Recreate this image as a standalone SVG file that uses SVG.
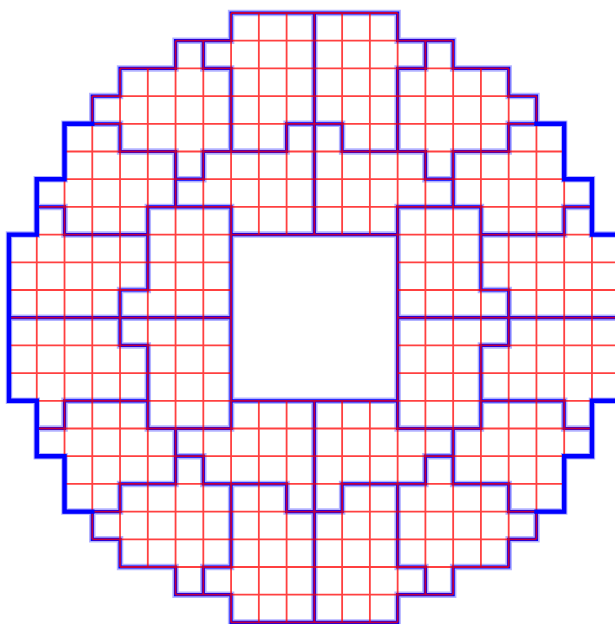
<svg xmlns="http://www.w3.org/2000/svg" width="615" height="624" viewBox="0 0 615 624">
<style>
path{vector-effect:non-scaling-stroke;fill:none}
.halo{stroke:#0000ff;stroke-opacity:0.3;stroke-width:6.5;stroke-linejoin:miter;stroke-linecap:square}
.blue{stroke:#0000ff;stroke-width:3.2;stroke-linejoin:miter;stroke-linecap:square}
.thick{stroke:#0000ff;stroke-width:4.4;stroke-linecap:square;stroke-linejoin:miter}
.red{stroke:#ff0000;stroke-opacity:0.75;stroke-width:1.8}
</style>
<rect width="615" height="624" fill="#ffffff"/>
<g transform="translate(9,13) scale(27.76,27.7)">
<g id="partitions">
<path class="halo" d="M8,0H14V1H16V2H18V3H19V4H20V6H21V8H22V14H21V16H20V18H19V19H18V20H16V21H14V22H8V21H6V20H4V19H3V18H2V16H1V14H0V8H1V6H2V4H3V3H4V2H6V1H8Z M8,8H14V14H8Z M11,0V8 M11,14V22 M0,11H8 M14,11H22 M7,1V2H8V5 M3,4H4V5H6V7 M6,6H7V5H10V4H11 M1,7H2V8H5 M8,8V7H5V10H4V11 M15,1V2H14V5 M19,4H18V5H16V7 M16,6H15V5H12V4H11 M21,7H20V8H17 M14,8V7H17V10H18V11 M7,21V20H8V17 M3,18H4V17H6V15 M6,16H7V17H10V18H11 M1,15H2V14H5 M8,14V15H5V12H4V11 M15,21V20H14V17 M19,18H18V17H16V15 M16,16H15V17H12V18H11 M21,15H20V14H17 M14,14V15H17V12H18V11"/>
<path class="blue" d="M8,0H14V1H16V2H18V3H19V4H20V6H21V8H22V14H21V16H20V18H19V19H18V20H16V21H14V22H8V21H6V20H4V19H3V18H2V16H1V14H0V8H1V6H2V4H3V3H4V2H6V1H8Z M8,8H14V14H8Z M11,0V8 M11,14V22 M0,11H8 M14,11H22 M7,1V2H8V5 M3,4H4V5H6V7 M6,6H7V5H10V4H11 M1,7H2V8H5 M8,8V7H5V10H4V11 M15,1V2H14V5 M19,4H18V5H16V7 M16,6H15V5H12V4H11 M21,7H20V8H17 M14,8V7H17V10H18V11 M7,21V20H8V17 M3,18H4V17H6V15 M6,16H7V17H10V18H11 M1,15H2V14H5 M8,14V15H5V12H4V11 M15,21V20H14V17 M19,18H18V17H16V15 M16,16H15V17H12V18H11 M21,15H20V14H17 M14,14V15H17V12H18V11"/>
</g>
<g id="grid">
<path class="red" d="M8,0H14 M6,1H16 M4,2H18 M3,3H19 M3,4H19 M2,5H20 M2,6H20 M1,7H21 M1,8H21 M0,9H8 M14,9H22 M0,10H8 M14,10H22 M0,11H8 M14,11H22 M0,12H8 M14,12H22 M0,13H8 M14,13H22 M1,14H21 M1,15H21 M2,16H20 M2,17H20 M3,18H19 M3,19H19 M4,20H18 M6,21H16 M8,22H14 M1,8V14 M2,6V16 M3,3V19 M4,2V20 M5,2V20 M6,1V21 M7,1V21 M8,0V22 M9,0V8 M9,14V22 M10,0V8 M10,14V22 M11,0V8 M11,14V22 M12,0V8 M12,14V22 M13,0V8 M13,14V22 M14,0V22 M15,1V21 M16,1V21 M17,2V20 M18,2V20 M19,3V19 M20,6V16 M21,8V14"/>
</g>
<g id="outer-sides">
<path class="thick" d="M3,4H2V6H1V8H0V14H1V16H2V18H3 M19,4H20V6H21V8H22V14H21V16H20V18H19"/>
</g>
</g>
</svg>
